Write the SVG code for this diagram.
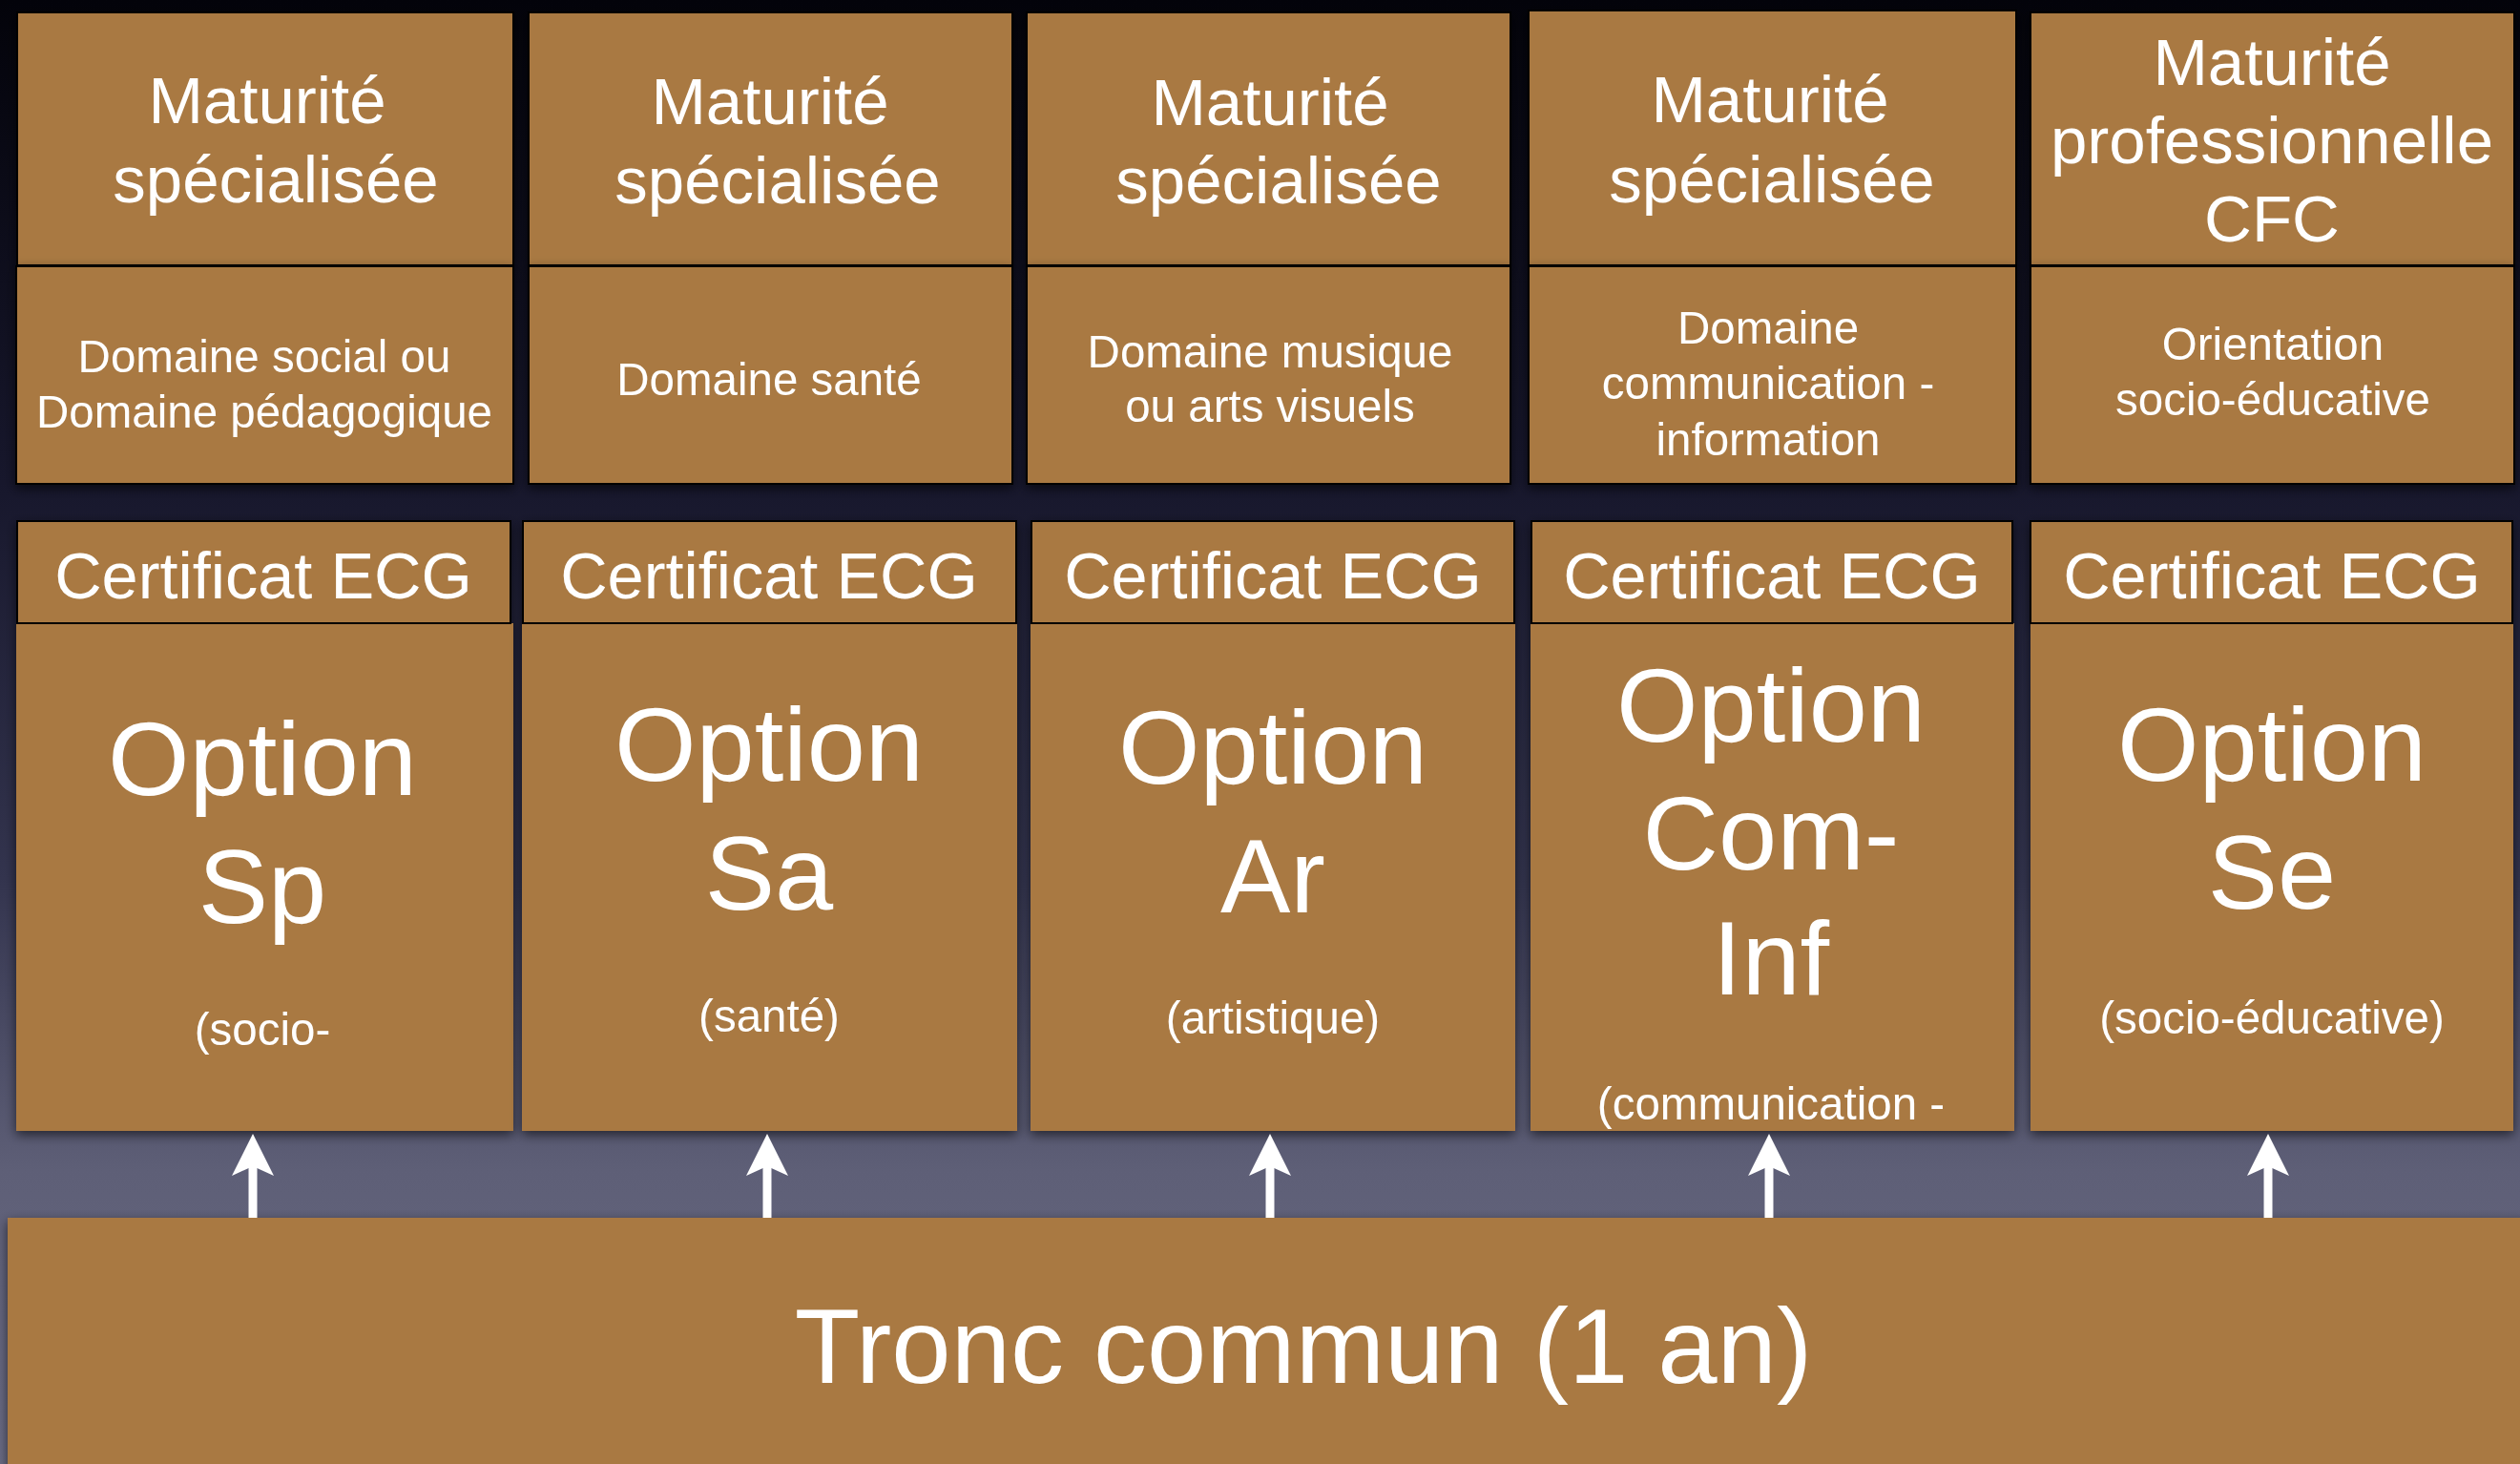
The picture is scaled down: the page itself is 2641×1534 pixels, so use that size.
<svg xmlns="http://www.w3.org/2000/svg" width="2641" height="1534" viewBox="0 0 2641 1534">
<defs>
  <linearGradient id="bg" x1="0" y1="0" x2="0" y2="1534" gradientUnits="userSpaceOnUse">
    <stop offset="0" stop-color="#03030a"/>
    <stop offset="0.33" stop-color="#17172c"/>
    <stop offset="0.6" stop-color="#33344e"/>
    <stop offset="0.8" stop-color="#5e5f77"/>
    <stop offset="1" stop-color="#6a6b84"/>
  </linearGradient>
  <filter id="sh" x="-5%" y="-5%" width="110%" height="115%">
    <feDropShadow dx="0" dy="4" stdDeviation="6" flood-color="#000" flood-opacity="0.6"/>
  </filter>
  <marker id="ah" markerUnits="userSpaceOnUse" markerWidth="60" markerHeight="60" viewBox="0 -30 60 60" refX="44" refY="0" orient="auto">
    <path d="M56,0 L12,-22 L22,0 L12,22 Z" fill="#ffffff"/>
  </marker>
  <style>
    .box{fill:#a97943;stroke:#000;stroke-width:2}
    .plain{fill:#a97943}
    text{font-family:"Liberation Sans",Arial,Helvetica,sans-serif;fill:#ffffff;text-anchor:middle}
    .mat{font-size:69px}
    .dom{font-size:47.5px}
    .cert{font-size:68.5px}
    .opt{font-size:110px}
    .sub{font-size:47.5px}
    .tronc{font-size:112px}
    .conn{stroke:#ffffff;stroke-width:9;fill:none}
  </style>
</defs>
<rect x="0" y="0" width="2641" height="1534" fill="url(#bg)"/>

<!-- Top row: Maturité -->
<g id="mat1" filter="url(#sh)">
  <rect class="box" x="18" y="13" width="520" height="265"/>
  <text class="mat" x="280" y="129">Maturité</text>
  <text class="mat" x="289" y="212">spécialisée</text>
</g>
<g id="dom1" filter="url(#sh)">
  <rect class="box" x="17" y="279" width="521" height="228"/>
  <text class="dom" x="277" y="390">Domaine social ou</text>
  <text class="dom" x="277" y="448">Domaine pédagogique</text>
</g>
<g id="mat2" filter="url(#sh)">
  <rect class="box" x="554" y="13" width="507" height="265"/>
  <text class="mat" x="807" y="130">Maturité</text>
  <text class="mat" x="815" y="213">spécialisée</text>
</g>
<g id="dom2" filter="url(#sh)">
  <rect class="box" x="554" y="279" width="507" height="228"/>
  <text class="dom" x="806" y="414">Domaine santé</text>
</g>
<g id="mat3" filter="url(#sh)">
  <rect class="box" x="1076" y="13" width="507" height="265"/>
  <text class="mat" x="1331" y="131">Maturité</text>
  <text class="mat" x="1340" y="213">spécialisée</text>
</g>
<g id="dom3" filter="url(#sh)">
  <rect class="box" x="1076" y="279" width="507" height="228"/>
  <text class="dom" x="1331" y="385">Domaine musique</text>
  <text class="dom" x="1331" y="442">ou arts visuels</text>
</g>
<g id="mat4" filter="url(#sh)">
  <rect class="box" x="1602" y="11" width="511" height="267"/>
  <text class="mat" x="1855" y="128">Maturité</text>
  <text class="mat" x="1857" y="212">spécialisée</text>
</g>
<g id="dom4" filter="url(#sh)">
  <rect class="box" x="1602" y="279" width="511" height="228"/>
  <text class="dom" x="1853" y="360">Domaine</text>
  <text class="dom" x="1853" y="418">communication -</text>
  <text class="dom" x="1853" y="477">information</text>
</g>
<g id="mat5" filter="url(#sh)">
  <rect class="box" x="2128" y="13" width="507" height="265"/>
  <text class="mat" x="2381" y="89">Maturité</text>
  <text class="mat" x="2381" y="171">professionnelle</text>
  <text class="mat" x="2381" y="253">CFC</text>
</g>
<g id="dom5" filter="url(#sh)">
  <rect class="box" x="2128" y="279" width="507" height="228"/>
  <text class="dom" x="2382" y="377">Orientation</text>
  <text class="dom" x="2382" y="435">socio-éducative</text>
</g>

<!-- Second row: Certificat ECG + Options -->
<g id="opt1" filter="url(#sh)">
  <rect class="plain" x="17" y="653" width="521" height="532"/>
  <rect class="box" x="18" y="546" width="517" height="107"/>
  <text class="cert" x="276" y="627">Certificat ECG</text>
  <text class="opt" x="275" y="833">Option</text>
  <text class="opt" x="275" y="967">Sp</text>
  <text class="sub" x="275" y="1095">(socio-</text>
</g>
<g id="opt2" filter="url(#sh)">
  <rect class="plain" x="547" y="653" width="519" height="532"/>
  <rect class="box" x="548" y="546" width="517" height="107"/>
  <text class="cert" x="806" y="627">Certificat ECG</text>
  <text class="opt" x="806" y="818">Option</text>
  <text class="opt" x="806" y="953">Sa</text>
  <text class="sub" x="806" y="1081">(santé)</text>
</g>
<g id="opt3" filter="url(#sh)">
  <rect class="plain" x="1080" y="653" width="508" height="532"/>
  <rect class="box" x="1081" y="546" width="506" height="107"/>
  <text class="cert" x="1334" y="627">Certificat ECG</text>
  <text class="opt" x="1334" y="821">Option</text>
  <text class="opt" x="1334" y="956">Ar</text>
  <text class="sub" x="1334" y="1083">(artistique)</text>
</g>
<g id="opt4" filter="url(#sh)">
  <rect class="plain" x="1604" y="653" width="507" height="532"/>
  <rect class="box" x="1605" y="546" width="504" height="107"/>
  <text class="cert" x="1857" y="627">Certificat ECG</text>
  <text class="opt" x="1856" y="777">Option</text>
  <text class="opt" x="1856" y="911">Com-</text>
  <text class="opt" x="1856" y="1042">Inf</text>
  <text class="sub" x="1856" y="1173">(communication -</text>
</g>
<g id="opt5" filter="url(#sh)">
  <rect class="plain" x="2128" y="653" width="506" height="532"/>
  <rect class="box" x="2128" y="546" width="505" height="107"/>
  <text class="cert" x="2381" y="627">Certificat ECG</text>
  <text class="opt" x="2381" y="818">Option</text>
  <text class="opt" x="2381" y="952">Se</text>
  <text class="sub" x="2381" y="1083">(socio-éducative)</text>
</g>

<!-- Bottom: Tronc commun -->
<g id="tronc" filter="url(#sh)">
  <rect class="plain" x="8" y="1276" width="2640" height="270"/>
  <text class="tronc" x="1366" y="1449">Tronc commun (1 an)</text>
</g>

<!-- Connectors -->
<g id="connectors">
  <line class="conn" x1="265" y1="1276" x2="265" y2="1200" marker-end="url(#ah)"/>
  <line class="conn" x1="804" y1="1276" x2="804" y2="1200" marker-end="url(#ah)"/>
  <line class="conn" x1="1331" y1="1276" x2="1331" y2="1200" marker-end="url(#ah)"/>
  <line class="conn" x1="1854" y1="1276" x2="1854" y2="1200" marker-end="url(#ah)"/>
  <line class="conn" x1="2377" y1="1276" x2="2377" y2="1200" marker-end="url(#ah)"/>
</g>
</svg>
